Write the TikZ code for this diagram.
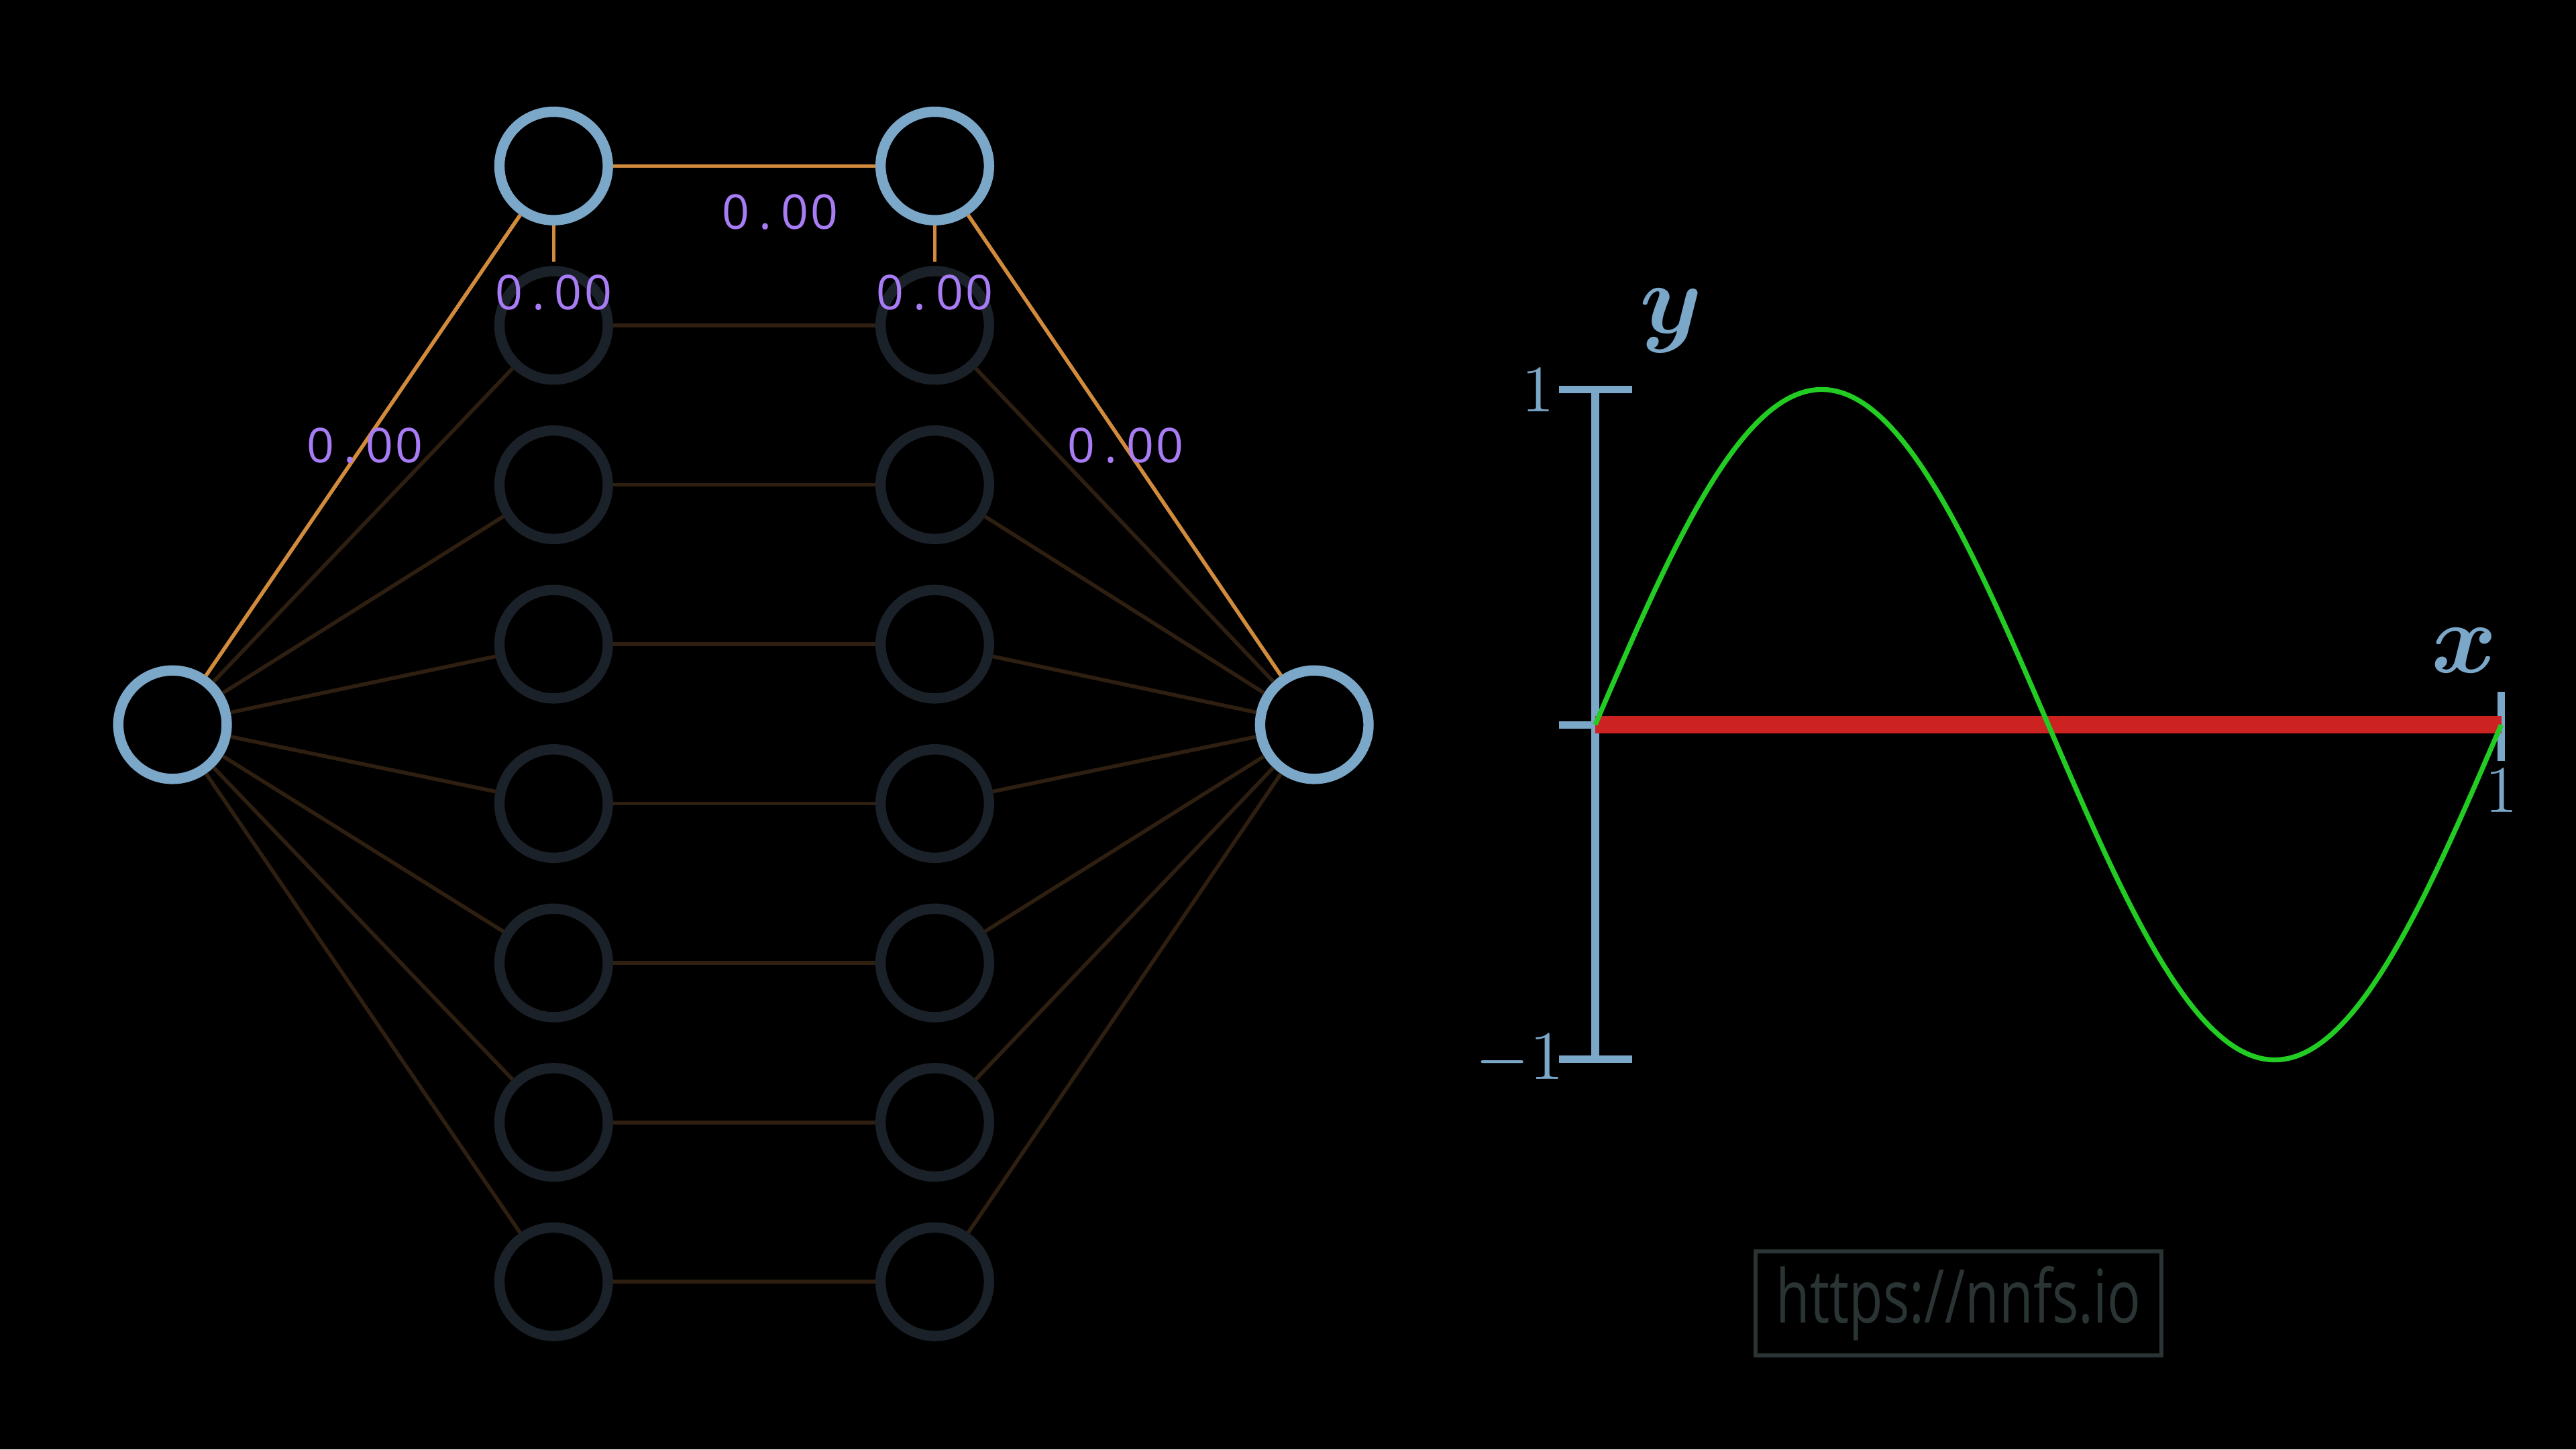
\documentclass[tikz,border=0pt]{standalone}
\usepackage{amsmath}
\usepackage{amssymb}
\usepackage{graphicx}
\usepackage{fontspec}
\usepackage{tikz}
\usepackage{xcolor}
\usetikzlibrary{positioning, calc}

\newfontfamily\labelfont{Open Sans}
\newfontfamily\wmfont{Open Sans}
% fixed-width weight value
\newcommand{\wval}{\makebox[0.18cm]{0}\makebox[0.18cm]{.}\makebox[0.18cm]{0}\makebox[0.18cm]{0}}

\definecolor{nblue}{HTML}{7BA7C9}
\definecolor{ndim}{HTML}{1A2128}
\definecolor{worange}{HTML}{D28A3C}
\definecolor{wdim}{HTML}{2E1F10}
\definecolor{wpurple}{HTML}{A87CF5}
\definecolor{sgreen}{HTML}{22CC22}
\definecolor{sred}{HTML}{CC2222}
\definecolor{wmgrey}{HTML}{2A3434}

\begin{document}
\begin{tikzpicture}[
  neuron/.style={circle, draw=nblue, line width=0.063cm, minimum size=0.66cm, inner sep=0pt},
  dimneuron/.style={neuron, draw=ndim},
  liveedge/.style={worange, line width=0.023cm},
  dimedge/.style={wdim, line width=0.023cm},
  wlabel/.style={text=wpurple, inner sep=0pt, font=\labelfont\fontsize{8.3}{10}\selectfont},
  axis/.style={nblue, line width=0.045cm},
  ticklabel/.style={text=nblue, font=\fontsize{11.5}{13}\selectfont}
]
% Background
\fill[black] (0,0) rectangle (15.68,8.82);

% Input and output neurons
\node[neuron] (in) at (1.05,4.41) {};
\node[neuron] (out) at (8.00,4.41) {};

% Hidden layers
\node[neuron] (h1-1) at (3.37,7.81) {};
\node[neuron] (h2-1) at (5.69,7.81) {};
\foreach \i in {2,...,8} {
  \node[dimneuron] (h1-\i) at (3.37,{7.81-0.97*(\i-1)}) {};
  \node[dimneuron] (h2-\i) at (5.69,{7.81-0.97*(\i-1)}) {};
}

% Dim connections
\foreach \i in {2,...,8} {
  \draw[dimedge] (in) -- (h1-\i);
  \draw[dimedge] (h1-\i) -- (h2-\i);
  \draw[dimedge] (h2-\i) -- (out);
}

% Live connections
\draw[liveedge] (in) -- (h1-1);
\draw[liveedge] (h1-1) -- (h2-1);
\draw[liveedge] (h2-1) -- (out);
\coordinate[below=0.22cm of h1-1] (b1);
\coordinate[below=0.22cm of h2-1] (b2);
\draw[liveedge] (h1-1) -- (b1);
\draw[liveedge] (h2-1) -- (b2);

% Weight labels
\node[wlabel] (w-in) at (2.22,6.11) {\wval};
\node[wlabel] (w-mid) at (4.75,7.53) {\wval};
\node[wlabel] (w-out) at (6.85,6.11) {\wval};
\node[wlabel] (b-h1) at (3.37,7.04) {\wval};
\node[wlabel] (b-h2) at (5.69,7.04) {\wval};

% Axes
\draw[axis] (9.71,2.375) -- (9.71,6.45);
\draw[axis] (9.49,6.45) -- (9.935,6.45);
\draw[axis] (9.49,2.375) -- (9.935,2.375);
\draw[axis] (9.49,4.41) -- (9.71,4.41);
\draw[axis] (15.225,4.19) -- (15.225,4.61);

% Plot
\draw[sred, line width=0.106cm] (9.71,4.41) -- (15.225,4.41);
\draw[sgreen, line width=0.03cm, domain=0:5.515, samples=200, shift={(9.71,4.41)}]
    plot (\x, {2.04*sin(\x/5.515*360)});

% Axis labels
\node[ticklabel] (ytop) at (9.36,6.45) {1};
\node[ticklabel] (ybot) at (9.25,2.37) {$-1$};
\node[ticklabel] (xend) at (15.225,4.01) {1};
\node[text=nblue] (ylab) at (10.17,6.87) {\fontsize{17}{20}\selectfont$\boldsymbol{y}$};
\node[text=nblue] (xlab) at (15.00,4.86) {\fontsize{16.5}{20}\selectfont$\boldsymbol{x}$};

% Watermark
\node[draw=wmgrey, line width=0.022cm, minimum width=2.47cm, minimum height=0.633cm,
      inner sep=0pt, text=wmgrey] (wm) at (11.921,0.889)
    {\wmfont\fontsize{12.8}{14}\selectfont\scalebox{0.75}[1]{https://nnfs.io}};
\end{tikzpicture}
\end{document}
